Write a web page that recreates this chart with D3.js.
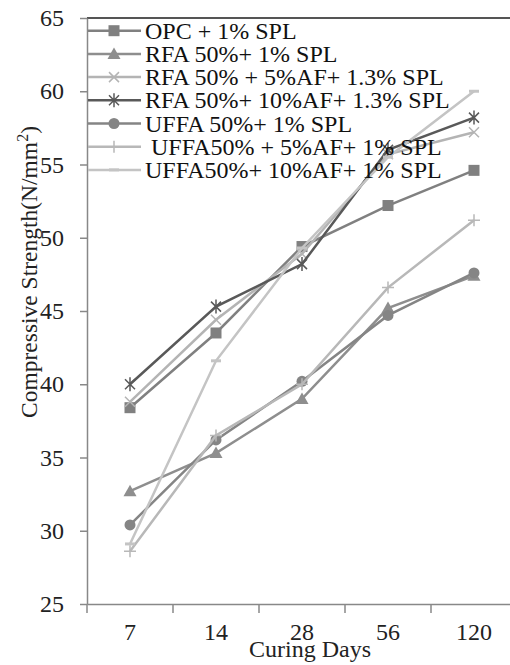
<!DOCTYPE html>
<html>
<head>
<meta charset="utf-8">
<script src="https://cdn.jsdelivr.net/npm/d3@7"></script>
<style>
  body { margin: 0; background: #fff; }
  svg { display: block; font-family: "Liberation Serif", "Times New Roman", serif; }
</style>
</head>
<body>
<svg id="chart" width="510" height="665"></svg>
<script>
const days = ["7", "14", "28", "56", "120"];
const yTicks = [25, 30, 35, 40, 45, 50, 55, 60, 65];

const seriesNames = [
  "OPC + 1% SPL",
  "RFA 50%+ 1% SPL",
  "RFA 50% + 5%AF+ 1.3% SPL",
  "RFA 50%+ 10%AF+ 1.3% SPL",
  "UFFA 50%+ 1% SPL",
  " UFFA50% + 5%AF+ 1% SPL",
  "UFFA50%+ 10%AF+ 1% SPL"
];
const opc = [38.4, 43.5, 49.4, 52.2, 54.6];
const rfa1 = [32.7, 35.3, 39.0, 45.2, 47.4];
const rfa5 = [38.8, 44.4, 48.9, 55.7, 57.2];
const rfa10 = [40.0, 45.3, 48.2, 56.0, 58.2];
const uffa1 = [30.4, 36.2, 40.2, 44.7, 47.6];
const uffa5 = [28.6, 36.5, 40.0, 46.6, 51.2];
const uffa10 = [29.1, 41.6, 49.3, 55.5, 60.0];

const seriesValues = [opc, rfa1, rfa5, rfa10, uffa1, uffa5, uffa10];
const colors = ["#808080", "#8e8e8e", "#b4b4b4", "#595959", "#858585", "#b8b8b8", "#c4c4c4"];
const markers = ["square", "triangle", "x", "asterisk", "circle", "plus", "dash"];

const svg = d3.select("#chart");

const x = d3.scaleBand().domain(days).range([87, 517]).padding(0);
const y = d3.scaleLinear().domain([25, 65]).range([604, 18]);

// top border of plot area
svg.append("line")
  .attr("x1", 87).attr("x2", 510)
  .attr("y1", y(65)).attr("y2", y(65))
  .attr("stroke", "#555").attr("stroke-width", 2);

// y axis
const yAxis = svg.append("g")
  .attr("transform", "translate(87,0)")
  .call(d3.axisLeft(y).tickValues(yTicks).tickSize(7).tickPadding(16).tickSizeOuter(0));
yAxis.select(".domain").attr("stroke", "#888").attr("stroke-width", 1.5);
yAxis.selectAll(".tick line").attr("stroke", "#888").attr("stroke-width", 1.5);
yAxis.selectAll(".tick text")
  .attr("font-size", 24)
  .attr("font-family", "Liberation Serif, serif")
  .attr("fill", "#222");

// x axis
const xAxis = svg.append("g")
  .attr("transform", "translate(0,604)")
  .call(d3.axisBottom(x).tickSize(0).tickSizeOuter(0));
xAxis.select(".domain").attr("stroke", "#888").attr("stroke-width", 1.5);
xAxis.selectAll(".tick text")
  .attr("font-size", 24)
  .attr("font-family", "Liberation Serif, serif")
  .attr("fill", "#222")
  .attr("y", 36)
  .attr("dy", 0);
xAxis.selectAll(".boundary")
  .data(days.concat(["end"]))
  .enter()
  .append("line")
  .attr("class", "boundary")
  .attr("x1", (d) => (d === "end" ? x.range()[1] : x(d)))
  .attr("x2", (d) => (d === "end" ? x.range()[1] : x(d)))
  .attr("y1", 0)
  .attr("y2", 9)
  .attr("stroke", "#888")
  .attr("stroke-width", 1.5);

// axis titles
svg.append("text")
  .attr("x", 310)
  .attr("y", 657)
  .attr("text-anchor", "middle")
  .attr("font-size", 24)
  .attr("fill", "#222")
  .text("Curing Days");

const yTitle = svg.append("text")
  .attr("transform", "translate(37,272) rotate(-90)")
  .attr("text-anchor", "middle")
  .attr("font-size", 23.5)
  .attr("fill", "#222");
yTitle.append("tspan").text("Compressive Strength(N/mm");
yTitle.append("tspan").attr("dy", -9).attr("font-size", 16).text("2");
yTitle.append("tspan").attr("dy", 9).text(")");

function drawMarker(g, type, cx, cy, color) {
  if (type === "square") {
    g.append("rect").attr("x", cx - 5.5).attr("y", cy - 5.5)
      .attr("width", 11).attr("height", 11).attr("fill", color);
  } else if (type === "triangle") {
    g.append("path")
      .attr("d", `M${cx},${cy - 6.5}L${cx + 6.5},${cy + 5}L${cx - 6.5},${cy + 5}Z`)
      .attr("fill", color);
  } else if (type === "circle") {
    g.append("circle").attr("cx", cx).attr("cy", cy).attr("r", 5.5).attr("fill", color);
  } else if (type === "x") {
    g.append("path")
      .attr("d", `M${cx - 5},${cy - 5}L${cx + 5},${cy + 5}M${cx - 5},${cy + 5}L${cx + 5},${cy - 5}`)
      .attr("stroke", color).attr("stroke-width", 1.5).attr("fill", "none");
  } else if (type === "asterisk") {
    g.append("path")
      .attr("d", `M${cx - 5},${cy - 5}L${cx + 5},${cy + 5}M${cx - 5},${cy + 5}L${cx + 5},${cy - 5}M${cx},${cy - 7}L${cx},${cy + 7}`)
      .attr("stroke", color).attr("stroke-width", 1.5).attr("fill", "none");
  } else if (type === "plus") {
    g.append("path")
      .attr("d", `M${cx - 6},${cy}L${cx + 6},${cy}M${cx},${cy - 6}L${cx},${cy + 6}`)
      .attr("stroke", color).attr("stroke-width", 1.5).attr("fill", "none");
  } else if (type === "dash") {
    g.append("path")
      .attr("d", `M${cx - 5},${cy}L${cx + 5},${cy}`)
      .attr("stroke", color).attr("stroke-width", 3).attr("fill", "none");
  }
}

const line = d3.line()
  .x((d, i) => x(days[i]) + x.bandwidth() / 2)
  .y((d) => y(d));

seriesValues.forEach((vals, s) => {
  const g = svg.append("g").attr("class", "series");
  g.append("path")
    .datum(vals)
    .attr("d", line)
    .attr("fill", "none")
    .attr("stroke", colors[s])
    .attr("stroke-width", 2.5);
  vals.forEach((v, i) => {
    drawMarker(g, markers[s], x(days[i]) + x.bandwidth() / 2, y(v), colors[s]);
  });
});

// legend
const legend = svg.append("g").attr("class", "legend");
seriesNames.forEach((name, i) => {
  const cy = 30.7 + i * 23.2;
  legend.append("line")
    .attr("x1", 88).attr("x2", 141)
    .attr("y1", cy).attr("y2", cy)
    .attr("stroke", colors[i]).attr("stroke-width", 2.5);
  drawMarker(legend, markers[i], 114, cy, colors[i]);
  legend.append("text")
    .attr("x", 145)
    .attr("y", cy + 8)
    .attr("font-size", 24)
    .attr("fill", "#111")
    .style("white-space", "pre")
    .text(name);
});
</script>
</body>
</html>
